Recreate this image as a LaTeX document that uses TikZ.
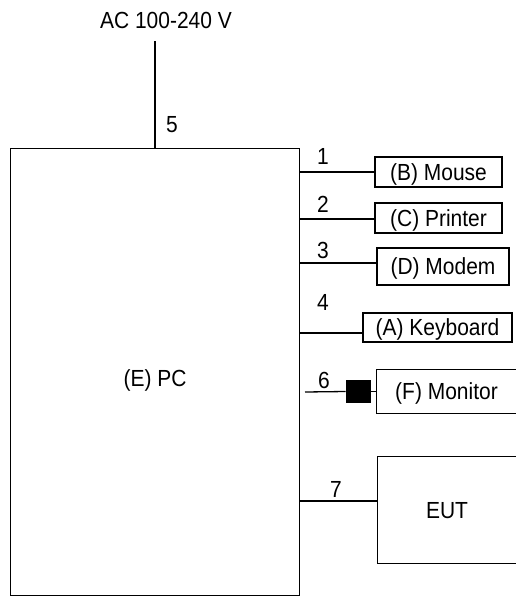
\documentclass[tikz,border=0pt]{standalone}
\usepackage{fontspec}
\setmainfont[FakeStretch=0.9]{Liberation Sans}
\begin{document}
\begin{tikzpicture}[x=1pt,y=-1pt,line width=1.3pt,
  every node/.style={font=\fontsize{23.3}{26}\selectfont},
  lbl/.style={inner sep=0pt,text height=16.7pt,text depth=0pt},
  dev/.style={draw,inner sep=0pt,text height=16.7pt,text depth=0pt},
  open/.style={inner sep=0pt,text height=16.7pt,text depth=0pt}]
\useasboundingbox (0,0) rectangle (515,597);
% PC
\node[draw,minimum width=289pt,minimum height=447pt,anchor=north west,inner sep=0pt] (pc) at (10,148) {};
\node[lbl] (pclbl) at (155,378) {(E) PC};
% power
\node[lbl] (ac) at (166,20) {AC 100-240 V};
\coordinate (acend) at (155,41);
\draw (acend) -- (acend |- pc.north);
\node[lbl] (n5) at (172,124) {5};
% peripherals
\node[dev,minimum width=127pt,minimum height=30pt] (mouse) at (438.5,172) {(B) Mouse};
\node[dev,minimum width=127pt,minimum height=30pt] (printer) at (438.5,218) {(C) Printer};
\node[dev,minimum width=132pt,minimum height=37pt] (modem) at (443,266.5) {(D) Modem};
\node[dev,minimum width=149pt,minimum height=29pt] (keyboard) at (437.5,327.5) {(A) Keyboard};
% connection points on PC
\coordinate (p1) at (299,172);
\coordinate (p2) at (299,219);
\coordinate (p3) at (299,263);
\coordinate (p4) at (299,333);
\coordinate (p6) at (305,392);
\coordinate (p7) at (299,501);
\draw (p1) -- (p1 -| mouse.west);
\draw (p2) -- (p2 -| printer.west);
\draw (p3) -- (p3 -| modem.west);
\draw (p4) -- (p4 -| keyboard.west);
\node[lbl] (n1) at (323,156) {1};
\node[lbl] (n2) at (323,204) {2};
\node[lbl] (n3) at (323,250) {3};
\node[lbl] (n4) at (323,302) {4};
\node[lbl] (n6) at (324,380) {6};
\node[lbl] (n7) at (336,489) {7};
% monitor
\node[open,minimum width=139pt,minimum height=43pt] (monitor) at (446.5,391.5) {(F) Monitor};
\draw (monitor.north east) -- (monitor.north west) -- (monitor.south west) -- (monitor.south east);
\node[fill=black,draw=black,line width=0.8pt,minimum width=24pt,minimum height=22pt,inner sep=0pt] (plug) at (358,391.5) {};
\draw (p6) -- (plug.west);
\draw (plug.east) -- (plug.east -| monitor.west);
% EUT
\node[open,minimum width=138pt,minimum height=106pt] (eut) at (447,510) {EUT};
\draw (eut.north east) -- (eut.north west) -- (eut.south west) -- (eut.south east);
\draw (p7) -- (p7 -| eut.west);
\end{tikzpicture}
\end{document}
